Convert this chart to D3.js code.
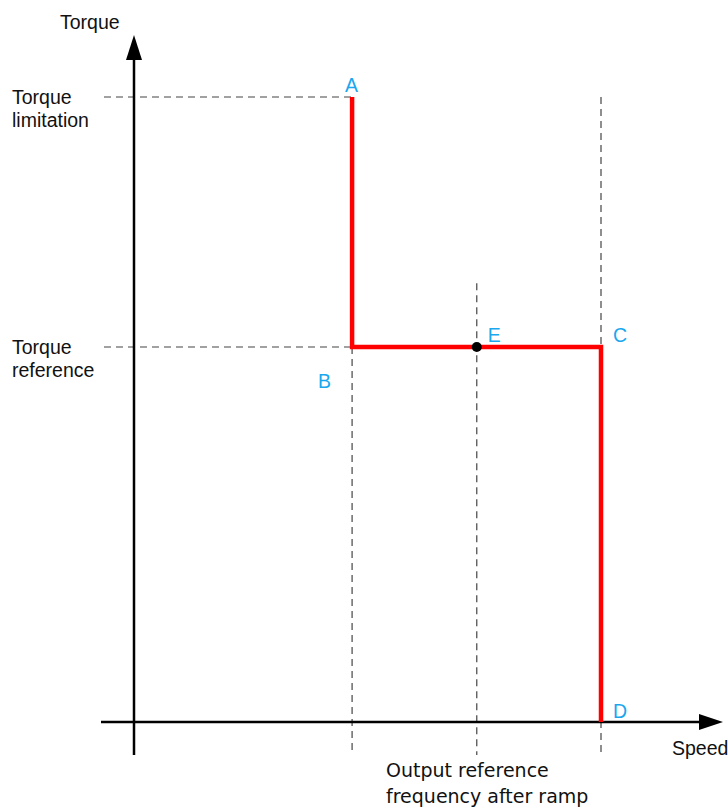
<!DOCTYPE html>
<html><head><meta charset="utf-8">
<script src="https://cdn.jsdelivr.net/npm/d3@7"></script>
<style>body{margin:0;background:#fff}svg{display:block}</style>
</head><body>
<script>
// Data
const points = [
  {name: "A", speed: 46.7, torque: 100},
  {name: "B", speed: 46.7, torque: 60},
  {name: "C", speed: 100, torque: 60},
  {name: "D", speed: 100, torque: 0}
];
const pointE = {name: "E", speed: 73.4, torque: 60};
const torqueLevels = [
  {label: ["Torque", "limitation"], torque: 100},
  {label: ["Torque", "reference"], torque: 60}
];
const speedMarks = [46.7, 73.4, 100];
const speedMarkTops = [60, 70.2, 100];

const W = 728, H = 807;
const svg = d3.select("body").append("svg").attr("width", W).attr("height", H);
const x = d3.scaleLinear().domain([0, 100]).range([134, 601]);
const y = d3.scaleLinear().domain([0, 100]).range([722, 97]);

const labelFont = "'Liberation Sans', Arial, sans-serif";
const blue = "#1aa7ee";
const fs = 19.5;

// dashed guide lines (horizontal)
torqueLevels.forEach(t => {
  svg.append("line").attr("x1", 104).attr("x2", x(46.7))
    .attr("y1", y(t.torque)).attr("y2", y(t.torque))
    .attr("stroke", "#444").attr("stroke-width", 1.2).attr("stroke-dasharray", "7,5");
  const tx = svg.append("text").attr("x", 12).attr("y", y(t.torque) + 7)
    .attr("font-family", labelFont).attr("font-size", fs).attr("fill", "#111");
  t.label.forEach((l, i) => tx.append("tspan").attr("x", 12).attr("dy", i === 0 ? 0 : 23).text(l));
});

// vertical dashed lines
speedMarks.forEach((s, i) => {
  svg.append("line").attr("x1", x(s)).attr("x2", x(s))
    .attr("y1", y(speedMarkTops[i])).attr("y2", 755)
    .attr("stroke", "#444").attr("stroke-width", 1.2).attr("stroke-dasharray", "7,5");
});

// axes
svg.append("line").attr("x1", x(0)).attr("x2", x(0)).attr("y1", 755).attr("y2", 55)
  .attr("stroke", "#000").attr("stroke-width", 2.5);
svg.append("path").attr("d", `M${x(0)},35 L${x(0)-8},60 L${x(0)+8},60 Z`).attr("fill", "#000");
svg.append("line").attr("x1", 101).attr("x2", 705).attr("y1", y(0)).attr("y2", y(0))
  .attr("stroke", "#000").attr("stroke-width", 2.5);
svg.append("path").attr("d", `M723,${y(0)} L699,${y(0)-8} L699,${y(0)+8} Z`).attr("fill", "#000");

// red characteristic
const line = d3.line().x(d => x(d.speed)).y(d => y(d.torque));
svg.append("path").datum(points).attr("d", line)
  .attr("fill", "none").attr("stroke", "#ff0000").attr("stroke-width", 4.5)
  .attr("stroke-linejoin", "miter");

// E dot
svg.append("circle").attr("cx", x(pointE.speed)).attr("cy", y(pointE.torque)).attr("r", 5).attr("fill", "#000");

// point labels
const lblPos = {A: [-7, -5], B: [-34, 41], C: [12, -5], D: [12, -4], E: [11, -5]};
[...points, pointE].forEach(p => {
  svg.append("text").attr("x", x(p.speed) + lblPos[p.name][0]).attr("y", y(p.torque) + lblPos[p.name][1])
    .attr("font-family", labelFont).attr("font-size", fs).attr("fill", blue).text(p.name);
});

// axis titles
svg.append("text").attr("x", 60).attr("y", 29).attr("font-family", labelFont).attr("font-size", fs).attr("fill", "#111").text("Torque");
svg.append("text").attr("x", 672).attr("y", 755).attr("font-family", labelFont).attr("font-size", fs).attr("fill", "#111").text("Speed");
const ot = svg.append("text").attr("font-family", "'DejaVu Sans', Verdana, sans-serif").attr("font-size", 19).attr("fill", "#111");
ot.append("tspan").attr("x", 386).attr("y", 777).text("Output reference");
ot.append("tspan").attr("x", 386).attr("y", 803).text("frequency after ramp");
</script>
</body></html>
